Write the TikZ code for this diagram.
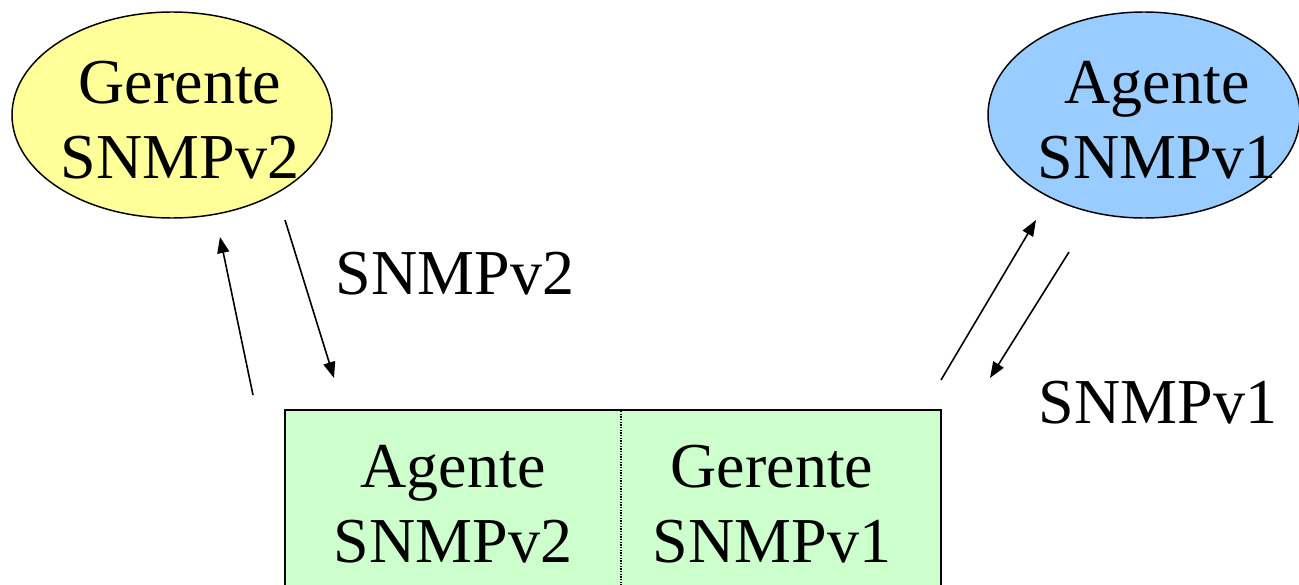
\documentclass[tikz,border=0pt]{standalone}
\usepackage{fontspec}
\setmainfont{Liberation Serif}
\usetikzlibrary{arrows.meta}
\definecolor{ylw}{HTML}{FFFF99}
\definecolor{blu}{HTML}{99CCFF}
\definecolor{grn}{HTML}{CCFFCC}
\begin{document}
\begin{tikzpicture}[x=0.75pt,y=-0.75pt,
  lbl/.style={font=\fontsize{48}{56}\selectfont, inner sep=0pt, align=center},
  ell/.style={draw=black, line width=1.1pt},
  arr/.style={-{Triangle[length=12pt,width=9pt]}, line width=1.2pt}]
\useasboundingbox (0,0) rectangle (1299,585);
\begin{scope}
\clip (0,0) rectangle (1299,585);
% ellipses
\draw[ell, fill=ylw] (172,115) ellipse [x radius=160, y radius=103];
\draw[ell, fill=blu] (1144,115) ellipse [x radius=156, y radius=103];
\node[lbl] (g2) at (180,120) {Gerente\\SNMPv2};
\node[lbl] (a1) at (1157,120) {Agente\\SNMPv1};
% box
\draw[line width=1.1pt, fill=grn] (285,620) -- (285,410) -- (941,410) -- (941,620);
\draw[densely dotted, line width=1pt] (621,411) -- (621,600);
\node[lbl] (a2) at (453,504) {Agente\\SNMPv2};
\node[lbl] (g1) at (772,504) {Gerente\\SNMPv1};
\end{scope}
% arrow endpoints
\coordinate (p1) at (253,395);
\coordinate (p2) at (220,237);
\coordinate (p3) at (285,220);
\coordinate (p4) at (334,378);
\coordinate (p5) at (941,380);
\coordinate (p6) at (1036,220);
\coordinate (p7) at (1069,252);
\coordinate (p8) at (990,378);
\draw[arr] (p1) -- (p2);
\draw[arr] (p3) -- (p4);
\draw[arr] (p5) -- (p6);
\draw[arr] (p7) -- (p8);
\node[lbl] (l2) at (455,274) {SNMPv2};
\node[lbl] (l1) at (1158,403) {SNMPv1};
\end{tikzpicture}
\end{document}
